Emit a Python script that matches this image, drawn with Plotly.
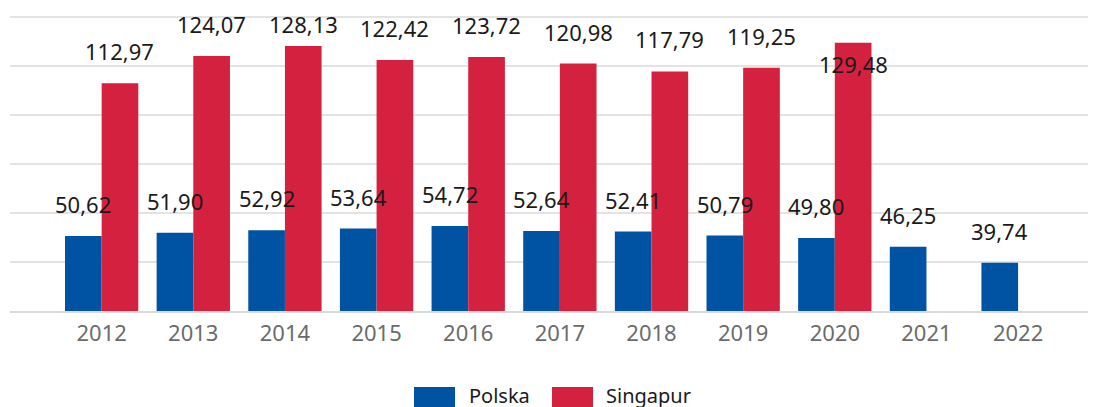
import plotly.graph_objects as go

# ---- data ----
years = ["2012", "2013", "2014", "2015", "2016", "2017", "2018", "2019", "2020", "2021", "2022"]
polska = [50.62, 51.90, 52.92, 53.64, 54.72, 52.64, 52.41, 50.79, 49.80, 46.25, 39.74]
singapur = [112.97, 124.07, 128.13, 122.42, 123.72, 120.98, 117.79, 119.25, 129.48, None, None]
series_names = ["Polska", "Singapur"]

# ---- style ----
BLUE = "#0052A2"
RED = "#D42140"
FONT = "Noto Sans, Open Sans, DejaVu Sans, sans-serif"
W, H = 1096, 407
OFF = 8  # page body margin
M_L, M_R, M_T, M_B = 2, 8, 6, 104
Y_MIN = 20
plot_h = H - M_T - M_B
plot_w = W - M_L - M_R
px_per_unit = 2.45
Y_TOP = Y_MIN + plot_h / px_per_unit
GRID_MAX = 140

def fmt(v):
    return f"{v:.2f}".replace(".", ",")

fig = go.Figure()
fig.add_trace(go.Bar(x=years, y=polska, name=series_names[0], marker_color=BLUE,
                     marker_line_width=0, showlegend=False))
fig.add_trace(go.Bar(x=years, y=singapur, name=series_names[1], marker_color=RED,
                     marker_line_width=0, showlegend=False))

# data labels: centred ~31px above the bar top, clamped below the chart top;
# labels that would be pushed down a lot go inside the bar instead
label_gap = 32 / px_per_unit
label_max = GRID_MAX - 6.5 / px_per_unit
inside_gap = 21 / px_per_unit
annotations = []
for s_idx, vals in enumerate([polska, singapur]):
    offset = -0.2 if s_idx == 0 else 0.2
    for i, v in enumerate(vals):
        if v is None:
            continue
        ly = v + label_gap
        if ly > label_max + 4.0:
            ly = v - inside_gap
        else:
            ly = min(ly, label_max)
        annotations.append(dict(x=i + offset, y=ly, xref="x", yref="y", text=fmt(v),
                                showarrow=False, xanchor="center", yanchor="middle",
                                font=dict(family=FONT, size=22, color="#1a1a1a")))

# manual legend with large swatches (screen pixel positions)
def px_x(p):
    return (p - OFF - M_L) / plot_w

def px_y(p):
    return (H - M_B - (p - OFF)) / plot_h

shapes = []
legend_items = [(series_names[0], BLUE, 414, 467), (series_names[1], RED, 552, 604)]
for name, col, sx, tx in legend_items:
    shapes.append(dict(type="rect", xref="paper", yref="paper",
                       x0=px_x(sx), x1=px_x(sx + 41), y0=px_y(387), y1=px_y(415),
                       fillcolor=col, line=dict(width=0), layer="above"))
    annotations.append(dict(x=px_x(tx), y=px_y(395), xref="paper", yref="paper",
                            text=name, showarrow=False, xanchor="left", yanchor="middle",
                            font=dict(family=FONT, size=20, color="#1a1a1a")))

fig.update_layout(
    width=W, height=H,
    margin=dict(l=M_L, r=M_R, t=M_T, b=M_B, pad=0),
    plot_bgcolor="white", paper_bgcolor="white",
    barmode="group", bargap=0.2, bargroupgap=0,
    showlegend=False,
    annotations=annotations, shapes=shapes,
    font=dict(family=FONT),
)
fig.update_xaxes(
    type="category", range=[-1.0, 10.85],
    showgrid=False, showline=True, linecolor="#d9d9d9", linewidth=2,
    ticks="outside", ticklen=2, tickcolor="rgba(0,0,0,0)",
    tickfont=dict(family=FONT, size=22, color="#6b6b6b"),
)
fig.update_yaxes(
    range=[Y_MIN, Y_TOP], tick0=0, dtick=20, showticklabels=False,
    showgrid=True, gridcolor="#e3e3e3", gridwidth=2, zeroline=False,
)

fig.write_html("out.html")
